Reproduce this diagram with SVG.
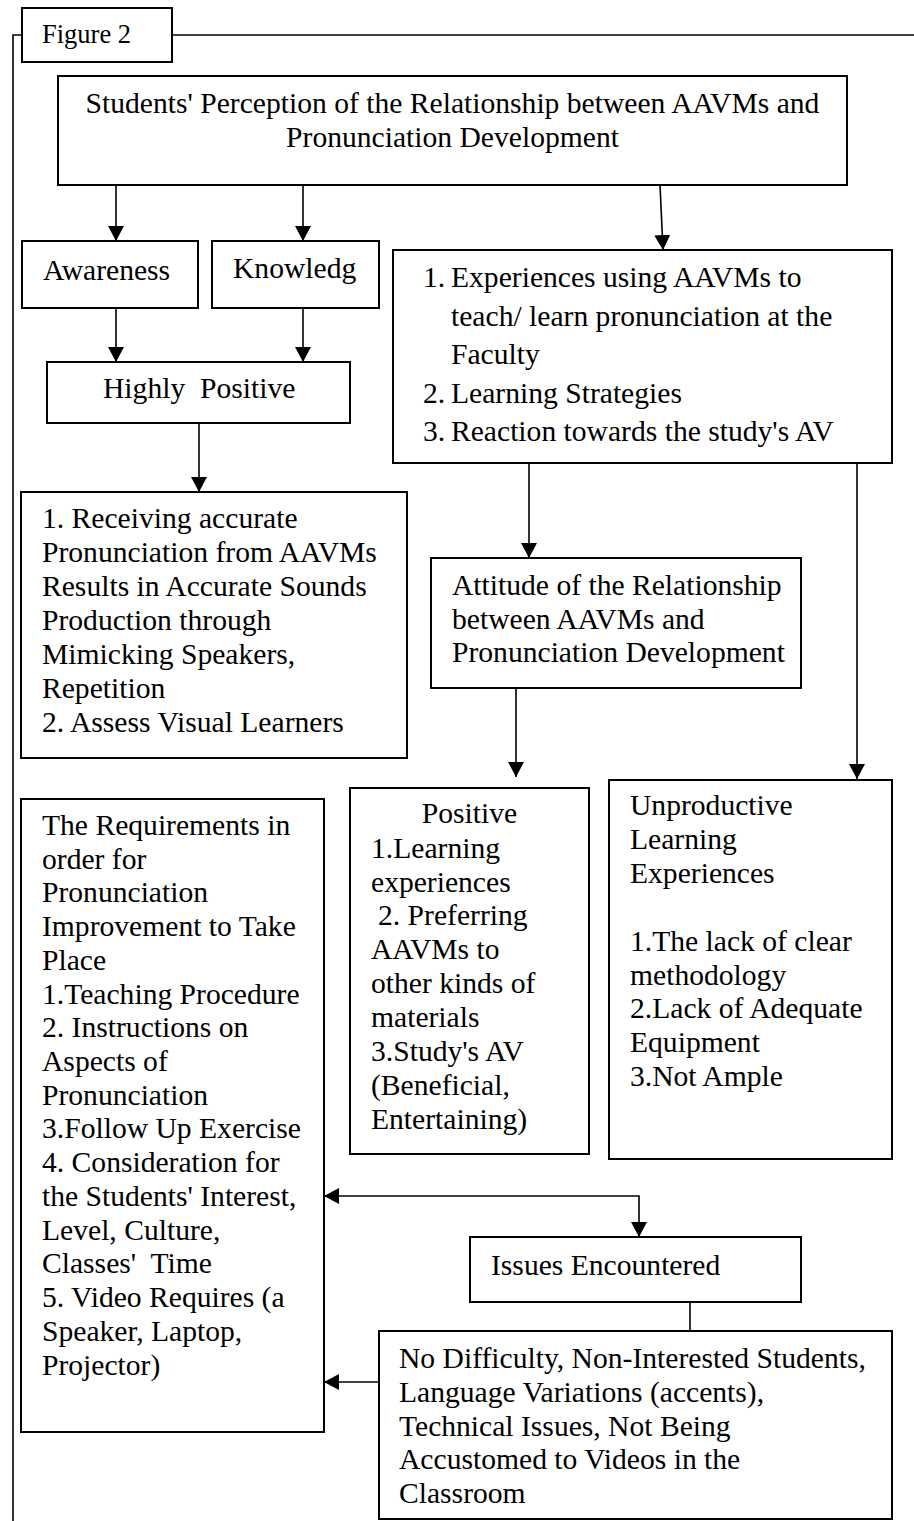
<svg xmlns="http://www.w3.org/2000/svg" width="914" height="1521" viewBox="0 0 914 1521">
<style>
text{font-family:"Liberation Serif","Times New Roman",serif;font-size:29.6px;fill:#000}
.box{fill:#fff;stroke:#000;stroke-width:2}
.ln{fill:none;stroke:#000;stroke-width:1.6}
.mid{text-anchor:middle}
</style>
<defs>
<marker id="ah" viewBox="0 0 15 16" refX="15" refY="8" markerWidth="15" markerHeight="16" markerUnits="userSpaceOnUse" orient="auto-start-reverse">
<path d="M0,0 L15,8 L0,16 z" fill="#000"/>
</marker>
</defs>
<g id="frame">
<polyline class="ln" points="22,35 13,35 13,1521"/>
<line class="ln" x1="172" y1="35" x2="914" y2="35"/>
</g>
<g id="figure-label">
<rect class="box" x="22" y="8" width="150" height="54"/>
<text x="42" y="43" style="font-size:26.5px">Figure 2</text>
</g>
<g id="connectors">
<line class="ln" x1="116" y1="185" x2="116" y2="241" marker-end="url(#ah)"/>
<line class="ln" x1="303" y1="185" x2="303" y2="241" marker-end="url(#ah)"/>
<line class="ln" x1="660" y1="185" x2="663" y2="250" marker-end="url(#ah)"/>
<line class="ln" x1="116" y1="308" x2="116" y2="362" marker-end="url(#ah)"/>
<line class="ln" x1="303" y1="308" x2="303" y2="362" marker-end="url(#ah)"/>
<line class="ln" x1="199" y1="423" x2="199" y2="492" marker-end="url(#ah)"/>
<line class="ln" x1="529" y1="463" x2="529" y2="558" marker-end="url(#ah)"/>
<line class="ln" x1="516" y1="688" x2="516" y2="777" marker-end="url(#ah)"/>
<line class="ln" x1="857" y1="463" x2="857" y2="779" marker-end="url(#ah)"/>
<polyline class="ln" points="324,1196 639,1196 639,1237" marker-start="url(#ah)" marker-end="url(#ah)"/>
<line class="ln" x1="690" y1="1302" x2="690" y2="1331"/>
<line class="ln" x1="379" y1="1382" x2="324" y2="1382" marker-end="url(#ah)"/>
</g>
<g id="title">
<rect class="box" x="58" y="76" width="789" height="109"/>
<text class="mid" x="452.5" y="113">Students' Perception of the Relationship between AAVMs and</text>
<text class="mid" x="452.5" y="147">Pronunciation Development</text>
</g>
<g id="awareness">
<rect class="box" x="22" y="241" width="176" height="67"/>
<text x="43" y="280">Awareness</text>
</g>
<g id="knowledge">
<rect class="box" x="212" y="241" width="167" height="67"/>
<text x="233" y="278">Knowledg</text>
</g>
<g id="highly-positive">
<rect class="box" x="47" y="362" width="303" height="61"/>
<text x="103" y="398" xml:space="preserve">Highly  Positive</text>
</g>
<g id="experiences">
<rect class="box" x="393" y="250" width="499" height="213"/>
<text x="423" y="287">1.</text>
<text x="451" y="287">Experiences using AAVMs to</text>
<text x="451" y="326">teach/ learn pronunciation at the</text>
<text x="451" y="364">Faculty</text>
<text x="423" y="403">2.</text>
<text x="451" y="403">Learning Strategies</text>
<text x="423" y="441">3.</text>
<text x="451" y="441">Reaction towards the study's AV</text>
</g>
<g id="receiving">
<rect class="box" x="21" y="492" width="386" height="266"/>
<text x="42" y="528">1. Receiving accurate</text>
<text x="42" y="562">Pronunciation from AAVMs</text>
<text x="42" y="596">Results in Accurate Sounds</text>
<text x="42" y="630">Production through</text>
<text x="42" y="664">Mimicking Speakers,</text>
<text x="42" y="698">Repetition</text>
<text x="42" y="732">2. Assess Visual Learners</text>
</g>
<g id="attitude">
<rect class="box" x="431" y="558" width="370" height="130"/>
<text x="452" y="595">Attitude of the Relationship</text>
<text x="452" y="629">between AAVMs and</text>
<text x="452" y="662">Pronunciation Development</text>
</g>
<g id="positive">
<rect class="box" x="350" y="788" width="239" height="366"/>
<text class="mid" x="469.5" y="823">Positive</text>
<text x="371" y="858">1.Learning</text>
<text x="371" y="892">experiences</text>
<text x="378" y="925">2. Preferring</text>
<text x="371" y="959">AAVMs to</text>
<text x="371" y="993">other kinds of</text>
<text x="371" y="1027">materials</text>
<text x="371" y="1061">3.Study's AV</text>
<text x="371" y="1095">(Beneficial,</text>
<text x="371" y="1129">Entertaining)</text>
</g>
<g id="unproductive">
<rect class="box" x="609" y="780" width="283" height="379"/>
<text x="630" y="815">Unproductive</text>
<text x="630" y="849">Learning</text>
<text x="630" y="883">Experiences</text>
<text x="630" y="951">1.The lack of clear</text>
<text x="630" y="985">methodology</text>
<text x="630" y="1018">2.Lack of Adequate</text>
<text x="630" y="1052">Equipment</text>
<text x="630" y="1086">3.Not Ample</text>
</g>
<g id="requirements">
<rect class="box" x="21" y="799" width="303" height="633"/>
<text x="42" y="835">The Requirements in</text>
<text x="42" y="869">order for</text>
<text x="42" y="902">Pronunciation</text>
<text x="42" y="936">Improvement to Take</text>
<text x="42" y="970">Place</text>
<text x="42" y="1004">1.Teaching Procedure</text>
<text x="42" y="1037">2. Instructions on</text>
<text x="42" y="1071">Aspects of</text>
<text x="42" y="1105">Pronunciation</text>
<text x="42" y="1138">3.Follow Up Exercise</text>
<text x="42" y="1172">4. Consideration for</text>
<text x="42" y="1206">the Students' Interest,</text>
<text x="42" y="1240">Level, Culture,</text>
<text x="42" y="1273" xml:space="preserve">Classes'  Time</text>
<text x="42" y="1307">5. Video Requires (a</text>
<text x="42" y="1341">Speaker, Laptop,</text>
<text x="42" y="1375">Projector)</text>
</g>
<g id="issues">
<rect class="box" x="470" y="1237" width="331" height="65"/>
<text x="491" y="1275">Issues Encountered</text>
</g>
<g id="issues-list">
<rect class="box" x="379" y="1331" width="513" height="188"/>
<text x="399" y="1368">No Difficulty, Non-Interested Students,</text>
<text x="399" y="1402">Language Variations (accents),</text>
<text x="399" y="1436">Technical Issues, Not Being</text>
<text x="399" y="1469">Accustomed to Videos in the</text>
<text x="399" y="1503">Classroom</text>
</g>
</svg>
